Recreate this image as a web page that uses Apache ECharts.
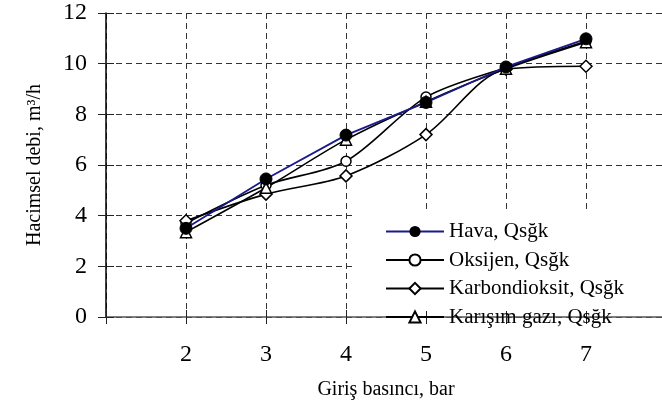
<!DOCTYPE html>
<html>
<head>
<meta charset="utf-8">
<script src="https://cdn.jsdelivr.net/npm/echarts@6/dist/echarts.min.js"></script>
<style>html,body{margin:0;padding:0;background:#fff}#c{width:662px;height:410px}</style>
</head>
<body>
<div id="c"></div>
<script>
const pressures = [2, 3, 4, 5, 6, 7];
const hava = [3.5, 5.45, 7.18, 8.47, 9.87, 10.98];
const oksijen = [3.7, 5.2, 6.15, 8.68, 9.85, 10.88];
const karbondioksit = [3.8, 4.85, 5.57, 7.2, 9.78, 9.9];
const karisim = [3.35, 5.1, 7.0, 8.5, 9.8, 10.85];
const seriesNames = ['Hava, Qsğk', 'Oksijen, Qsğk', 'Karbondioksit, Qsğk', 'Karışım gazı, Qsğk'];
const yTicks = [0, 2, 4, 6, 8, 10, 12];
const xTickLabels = ['2', '3', '4', '5', '6', '7'];

const FONT = 'Liberation Serif';
const pts = arr => pressures.map((x, i) => [x, arr[i]]);
const chart = echarts.init(document.getElementById('c'));
const dash = [6, 4];
const gridPos = {left: 106, right: -4, top: 13, bottom: 93, containLabel: false, outerBoundsMode: 'none'};

chart.setOption({
  animation: false,
  backgroundColor: '#fff',
  grid: [Object.assign({}, gridPos), Object.assign({}, gridPos)],
  xAxis: [{
    type: 'value', min: 1, max: 8, interval: 1, gridIndex: 0,
    axisLine: {onZero: false, lineStyle: {color: '#555', width: 1.5}},
    axisTick: {show: true, length: 7, lineStyle: {color: '#222'}},
    splitLine: {show: true, lineStyle: {color: '#333', type: dash, width: 1}},
    axisLabel: {
      margin: 26, fontFamily: FONT, fontSize: 24, color: '#000',
      formatter: v => xTickLabels.indexOf(String(v)) >= 0 ? String(v) : ''
    },
    name: 'Giriş basıncı, bar', nameLocation: 'middle', nameGap: 63,
    nameTextStyle: {fontFamily: FONT, fontSize: 20, color: '#000'}
  }, {
    type: 'value', min: 1, max: 8, interval: 1, gridIndex: 1, position: 'bottom',
    axisLine: {show: false}, splitLine: {show: false}, axisLabel: {show: false},
    axisTick: {show: true, inside: true, length: 7, lineStyle: {color: '#222'}}
  }],
  yAxis: [{
    type: 'value', min: 0, max: 12, interval: 2, gridIndex: 0,
    axisLine: {show: true, lineStyle: {color: '#000', width: 1.5}},
    axisTick: {show: true, length: 8, lineStyle: {color: '#222'}},
    splitLine: {show: true, lineStyle: {color: '#333', type: dash, width: 1}},
    axisLabel: {margin: 19, fontFamily: FONT, fontSize: 24, color: '#000',
      formatter: v => yTicks.indexOf(v) >= 0 ? String(v) : ''},
    name: 'Hacimsel debi, m³/h', nameLocation: 'middle', nameGap: 61,
    nameTextStyle: {fontFamily: FONT, fontSize: 20, color: '#000'}
  }, {
    type: 'value', min: 0, max: 12, interval: 2, gridIndex: 1, position: 'left',
    axisLine: {show: false}, splitLine: {show: false}, axisLabel: {show: false},
    axisTick: {show: true, inside: true, length: 8, lineStyle: {color: '#222'}}
  }],
  graphic: [{
    type: 'rect', z: 1, silent: true,
    shape: {x: 356, y: 209, width: 310, height: 102},
    style: {fill: '#fff'}
  }],
  legend: {
    orient: 'vertical', left: 380, top: 216,
    itemWidth: 58, itemHeight: 14, itemGap: 7.5,
    textStyle: {fontFamily: FONT, fontSize: 21, lineHeight: 21, color: '#000'},
    data: seriesNames
  },
  series: [{
    name: seriesNames[1], type: 'line', data: pts(oksijen), smooth: 0.3, z: 3,
    symbol: 'circle', symbolSize: 10,
    lineStyle: {color: '#000', width: 1.6},
    itemStyle: {color: '#fff', borderColor: '#000', borderWidth: 1.5}
  }, {
    name: seriesNames[2], type: 'line', data: pts(karbondioksit), smooth: 0.3, z: 3,
    symbol: 'diamond', symbolSize: 12,
    lineStyle: {color: '#000', width: 1.6},
    itemStyle: {color: '#fff', borderColor: '#000', borderWidth: 1.5}
  }, {
    name: seriesNames[3], type: 'line', data: pts(karisim), smooth: 0.3, z: 3,
    symbol: 'triangle', symbolSize: 11,
    lineStyle: {color: '#000', width: 1.6},
    itemStyle: {color: '#fff', borderColor: '#000', borderWidth: 1.5}
  }, {
    name: seriesNames[0], type: 'line', data: pts(hava), smooth: false, z: 4,
    symbol: 'circle', symbolSize: 12,
    lineStyle: {color: '#1a1a8c', width: 1.8},
    itemStyle: {color: '#000', borderColor: '#000'}
  }]
});
</script>
</body>
</html>
